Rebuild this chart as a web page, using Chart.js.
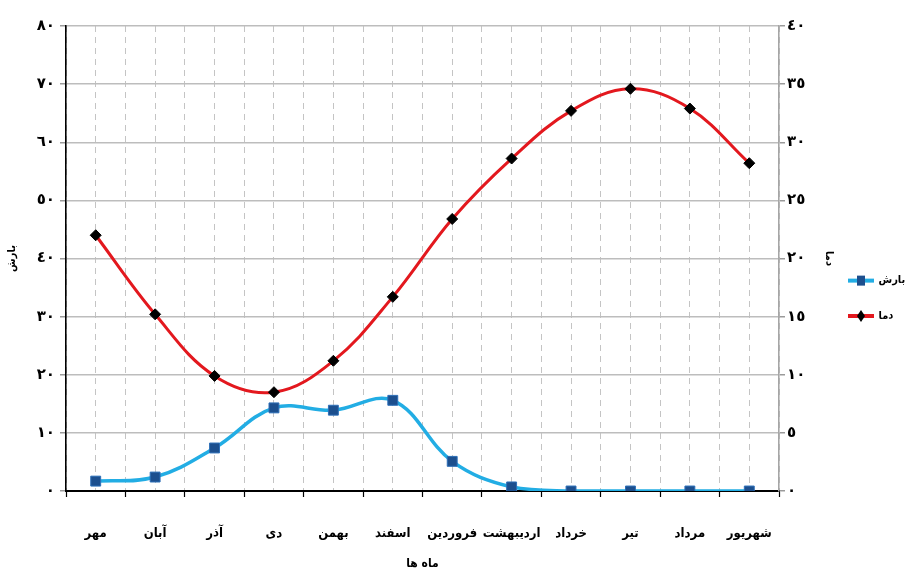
<!DOCTYPE html>
<html>
<head>
<meta charset="utf-8">
<script src="https://cdn.jsdelivr.net/npm/chart.js@4.4.1/dist/chart.umd.min.js"></script>
<style>
html,body{margin:0;padding:0;background:#fff;}
#wrap{width:906px;height:574px;}
</style>
</head>
<body>
<div id="wrap"><canvas id="c" width="906" height="574"></canvas></div>
<script>
const months = ['مهر','آبان','آذر','دی','بهمن','اسفند','فروردین','اردیبهشت','خرداد','تیر','مرداد','شهریور'];
const rain = [1.7, 2.4, 7.4, 14.3, 13.9, 15.6, 5.1, 0.7, 0, 0, 0, 0];
const temp = [22.0, 15.2, 9.9, 8.5, 11.2, 16.7, 23.4, 28.6, 32.7, 34.6, 32.9, 28.2];
const rainTickLabels = ['٠','١٠','٢٠','٣٠','٤٠','٥٠','٦٠','٧٠','٨٠'];
const tempTickLabels = ['٠','٥','١٠','١٥','٢٠','٢٥','٣٠','٣٥','٤٠'];
const seriesNames = ['بارش','دما'];
const axisTitles = {rain: 'بارش', temp: 'دما', x: 'ماه ها'};

const RED = '#e3181e';
const BLUE = '#22ade4';
const DARKBLUE = '#1c4f8e';
const FONT = "'DejaVu Sans', 'Noto Sans', sans-serif";
const CFONT = "'DejaVu Sans Condensed', 'DejaVu Sans', sans-serif";

function makeIcon(lineColor, kind) {
  const c = document.createElement('canvas');
  c.width = 26; c.height = 14;
  const g = c.getContext('2d');
  g.strokeStyle = lineColor; g.lineWidth = 4;
  g.beginPath(); g.moveTo(0, 7); g.lineTo(26, 7); g.stroke();
  if (kind === 'square') {
    g.fillStyle = DARKBLUE; g.fillRect(9, 2, 8, 10);
  } else {
    g.fillStyle = '#000';
    g.beginPath(); g.moveTo(13, 1); g.lineTo(17, 7); g.lineTo(13, 13); g.lineTo(9, 7); g.closePath(); g.fill();
  }
  return c;
}
const legendIcons = [makeIcon(BLUE, 'square'), makeIcon(RED, 'diamond')];

Chart.defaults.font.family = FONT;
Chart.defaults.color = '#000';

new Chart(document.getElementById('c'), {
  type: 'line',
  data: {
    labels: months,
    datasets: [
      {
        label: seriesNames[0],
        data: rain,
        yAxisID: 'y',
        xAxisID: 'x',
        borderColor: BLUE,
        borderWidth: 3.5,
        tension: 0.38,
        pointStyle: 'rect',
        pointRadius: 7,
        pointBackgroundColor: DARKBLUE,
        pointBorderColor: '#2d6fb8',
        pointBorderWidth: 1,
        fill: false
      },
      {
        label: seriesNames[1],
        data: temp,
        yAxisID: 'y1',
        xAxisID: 'x',
        borderColor: RED,
        borderWidth: 3,
        tension: 0.38,
        pointStyle: 'rectRot',
        pointRadius: 5.5,
        pointBackgroundColor: '#000',
        pointBorderColor: '#000',
        pointBorderWidth: 1,
        fill: false
      }
    ]
  },
  options: {
    responsive: false,
    animation: false,
    devicePixelRatio: 1,
    layout: {padding: {top: 26, left: 2, right: 0, bottom: 0}},
    plugins: {
      tooltip: {enabled: false},
      legend: {
        position: 'right',
        align: 'center',
        maxWidth: 66,
        title: {display: true, text: ' ', font: {size: 5}, padding: 3},
        labels: {
          usePointStyle: true,
          pointStyleWidth: 24,
          padding: 9,
          color: '#000',
          font: {family: CFONT, size: 11, weight: 'bold'},
          generateLabels(chart) {
            const items = Chart.defaults.plugins.legend.labels.generateLabels(chart);
            items.forEach((it, i) => {
              it.pointStyle = legendIcons[i];
              it.text = [seriesNames[i], ''];
            });
            return items;
          }
        }
      }
    },
    scales: {
      x: {
        type: 'category',
        position: 'bottom',
        offset: true,
        afterFit(s) { s.height = 83; },
        grid: {
          offset: true,
          color: '#c4c4c4',
          lineWidth: 1,
          drawTicks: true,
          tickLength: 6,
          tickColor: '#000',
          tickWidth: 1.2,
          tickBorderDash: []
        },
        border: {display: true, color: '#000', width: 2, dash: [6, 5]},
        ticks: {
          autoSkip: false,
          maxRotation: 0,
          minRotation: 0,
          padding: 29,
          color: '#000',
          font: {family: CFONT, size: 13, weight: 'bold'}
        },
        title: {
          display: true,
          text: axisTitles.x,
          color: '#000',
          font: {family: CFONT, size: 12, weight: 'bold'},
          padding: {top: 10, bottom: 3}
        }
      },
      x2: {
        type: 'category',
        position: 'top',
        offset: true,
        grid: {
          offset: false,
          color: '#c4c4c4',
          lineWidth: 1,
          drawTicks: false
        },
        border: {display: false, dash: [6, 5]},
        ticks: {display: false}
      },
      y: {
        type: 'linear',
        position: 'left',
        min: 0,
        max: 80,
        afterFit(s) { s.width = 64; },
        grid: {
          color: '#bdbdbd',
          lineWidth: 1.5,
          drawTicks: true,
          tickLength: 6,
          tickColor: '#9a9a9a'
        },
        border: {display: true, color: '#000', width: 1.6},
        ticks: {
          stepSize: 10,
          padding: 5,
          color: '#000',
          font: {family: FONT, size: 15, weight: 'bold'},
          callback(v) { return rainTickLabels[Math.round(v / 10)]; }
        },
        title: {
          display: true,
          text: axisTitles.rain,
          color: '#000',
          font: {family: CFONT, size: 11, weight: 'bold'},
          padding: {top: 4, bottom: 10}
        }
      },
      y1: {
        type: 'linear',
        position: 'right',
        min: 0,
        max: 40,
        afterFit(s) { s.width = 61; },
        grid: {
          drawOnChartArea: false,
          drawTicks: true,
          tickLength: 6,
          tickColor: '#9a9a9a',
          lineWidth: 1.5
        },
        border: {display: true, color: '#a6a6a6', width: 1.6},
        ticks: {
          stepSize: 5,
          padding: 2,
          color: '#000',
          font: {family: FONT, size: 15, weight: 'bold'},
          callback(v) { return tempTickLabels[Math.round(v / 5)]; }
        },
        title: {
          display: true,
          text: axisTitles.temp,
          color: '#000',
          font: {family: CFONT, size: 11, weight: 'bold'},
          padding: {top: 5, bottom: 10}
        }
      }
    }
  }
});
</script>
</body>
</html>
